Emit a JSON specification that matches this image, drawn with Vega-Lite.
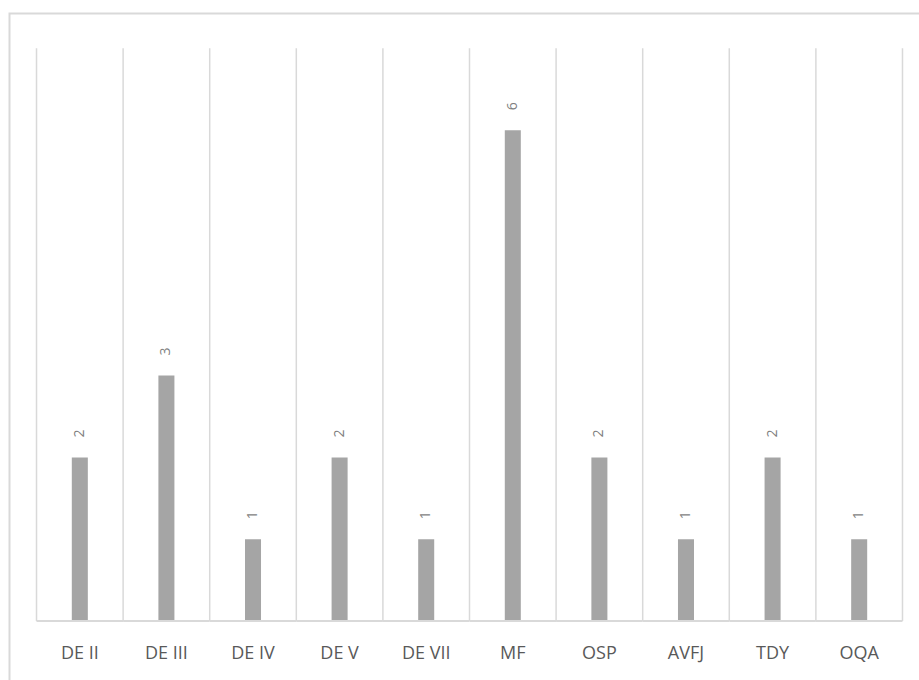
{
  "$schema": "https://vega.github.io/schema/vega-lite/v6.json",
  "width": 920,
  "height": 680,
  "autosize": {"type": "none"},
  "padding": {"left": 9.5, "top": 13.5, "right": 0, "bottom": 0},
  "background": "white",
  "config": {"view": {"stroke": "#d9d9d9", "strokeWidth": 2}},
  "data": {
    "values": [
      {"category": "DE II", "count": 2},
      {"category": "DE III", "count": 3},
      {"category": "DE IV", "count": 1},
      {"category": "DE V", "count": 2},
      {"category": "DE VII", "count": 1},
      {"category": "MF", "count": 6},
      {"category": "OSP", "count": 2},
      {"category": "AVFJ", "count": 1},
      {"category": "TDY", "count": 2},
      {"category": "OQA", "count": 1}
    ]
  },
  "layer": [
    {
      "mark": {"type": "bar", "color": "#a5a5a5", "width": {"band": 0.185}},
      "encoding": {
        "x": {"field": "category", "type": "nominal", "sort": null,
              "scale": {"paddingInner": 0, "paddingOuter": 0.312},
              "axis": {"orient": "bottom", "offset": -72.5, "title": null, "ticks": false,
                       "labelAngle": 0, "labelFont": "Open Sans", "labelFontSize": 18,
                       "labelColor": "#595959", "labelPadding": 23,
                       "domain": false, "grid": false}},
        "y": {"field": "count", "type": "quantitative", "axis": null,
              "scale": {"domain": [-0.886, 7.426], "nice": false, "zero": false}}
      }
    },
    {
      "mark": {"type": "rule", "color": "#d9d9d9", "strokeWidth": 1.5},
      "encoding": {
        "x": {"field": "category", "type": "nominal", "sort": null, "bandPosition": 0},
        "y": {"datum": 7},
        "y2": {"datum": 0}
      }
    },
    {
      "transform": [{"filter": "datum.category === 'OQA'"}],
      "mark": {"type": "rule", "color": "#d9d9d9", "strokeWidth": 1.5},
      "encoding": {
        "x": {"field": "category", "type": "nominal", "sort": null, "bandPosition": 1},
        "y": {"datum": 7},
        "y2": {"datum": 0}
      }
    },
    {
      "mark": {"type": "bar", "color": "#d9d9d9", "width": {"band": 1}},
      "encoding": {
        "x": {"field": "category", "type": "nominal", "sort": null},
        "y": {"datum": 0.012},
        "y2": {"datum": -0.012}
      }
    },
    {
      "mark": {"type": "text", "angle": 270, "align": "left", "baseline": "middle",
               "dx": 20, "font": "Open Sans", "fontSize": 14, "color": "#7f7f7f"},
      "encoding": {
        "x": {"field": "category", "type": "nominal", "sort": null},
        "y": {"field": "count", "type": "quantitative"},
        "text": {"field": "count", "type": "quantitative"}
      }
    }
  ]
}
